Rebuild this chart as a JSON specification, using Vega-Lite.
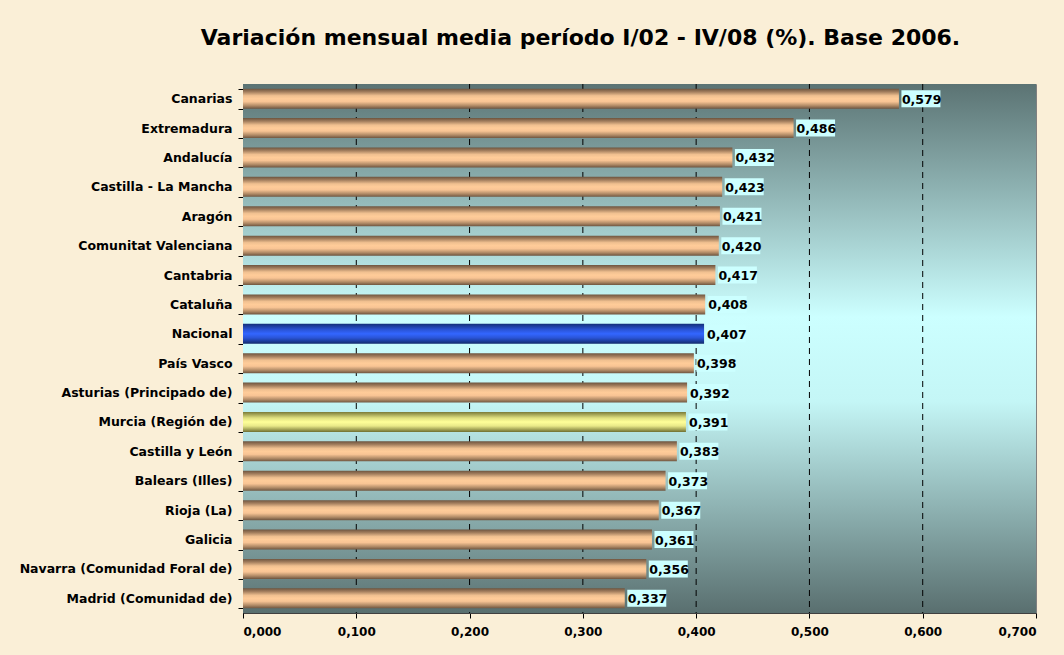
{
  "$schema": "https://vega.github.io/schema/vega-lite/v6.json",
  "autosize": {"type": "none"},
  "width": 793,
  "height": 529,
  "padding": {"left": 243, "top": 84, "right": 28, "bottom": 42},
  "background": "#faefd7",
  "title": {
    "text": "Variación mensual media período I/02 - IV/08 (%). Base 2006.",
    "font": "DejaVu Sans",
    "fontSize": 22,
    "fontWeight": "bold",
    "color": "#000000",
    "anchor": "middle",
    "dx": -59,
    "offset": 28
  },
  "config": {
    "locale": {"number": {"decimal": ",", "thousands": ".", "grouping": [3], "currency": ["", " €"]}},
    "view": {"stroke": "#808080", "strokeWidth": 1}
  },
  "data": {
    "values": [
      {"region": "Canarias", "value": 0.579, "type": "normal"},
      {"region": "Extremadura", "value": 0.486, "type": "normal"},
      {"region": "Andalucía", "value": 0.432, "type": "normal"},
      {"region": "Castilla - La Mancha", "value": 0.423, "type": "normal"},
      {"region": "Aragón", "value": 0.421, "type": "normal"},
      {"region": "Comunitat Valenciana", "value": 0.420, "type": "normal"},
      {"region": "Cantabria", "value": 0.417, "type": "normal"},
      {"region": "Cataluña", "value": 0.408, "type": "normal"},
      {"region": "Nacional", "value": 0.407, "type": "nacional"},
      {"region": "País Vasco", "value": 0.398, "type": "normal"},
      {"region": "Asturias (Principado de)", "value": 0.392, "type": "normal"},
      {"region": "Murcia (Región de)", "value": 0.391, "type": "murcia"},
      {"region": "Castilla y León", "value": 0.383, "type": "normal"},
      {"region": "Balears (Illes)", "value": 0.373, "type": "normal"},
      {"region": "Rioja (La)", "value": 0.367, "type": "normal"},
      {"region": "Galicia", "value": 0.361, "type": "normal"},
      {"region": "Navarra (Comunidad Foral de)", "value": 0.356, "type": "normal"},
      {"region": "Madrid (Comunidad de)", "value": 0.337, "type": "normal"}
    ]
  },
  "encoding": {
    "y": {
      "field": "region",
      "type": "nominal",
      "sort": ["Canarias", "Extremadura", "Andalucía", "Castilla - La Mancha", "Aragón", "Comunitat Valenciana", "Cantabria", "Cataluña", "Nacional", "País Vasco", "Asturias (Principado de)", "Murcia (Región de)", "Castilla y León", "Balears (Illes)", "Rioja (La)", "Galicia", "Navarra (Comunidad Foral de)", "Madrid (Comunidad de)"],
      "scale": {"paddingInner": 0.32, "paddingOuter": 0.16},
      "axis": {
        "title": null,
        "labelFont": "DejaVu Sans",
        "labelFontSize": 12.5,
        "labelFontWeight": "bold",
        "labelColor": "#000000",
        "labelPadding": 6,
        "labelLimit": 0,
        "tickBand": "extent",
        "tickColor": "#000000",
        "tickSize": 5,
        "domainColor": "#000000",
        "grid": false
      }
    }
  },
  "layer": [
    {
      "data": {"values": [{"a": 0, "b": 0.7}]},
      "mark": {
        "type": "rect",
        "fill": {
          "gradient": "linear", "x1": 0, "y1": 0, "x2": 0, "y2": 1,
          "stops": [
            {"offset": 0, "color": "#5b7373"},
            {"offset": 0.44, "color": "#ccffff"},
            {"offset": 0.6, "color": "#c4f6f6"},
            {"offset": 1, "color": "#596f6f"}
          ]
        }
      },
      "encoding": {
        "y": null,
        "x": {"field": "a", "type": "quantitative", "scale": {"domain": [0, 0.7]}},
        "x2": {"field": "b"}
      }
    },
    {
      "data": {"values": [{"t": 0.1}, {"t": 0.2}, {"t": 0.3}, {"t": 0.4}, {"t": 0.5}, {"t": 0.6}]},
      "mark": {"type": "rule", "color": "#000000", "strokeDash": [6, 5], "strokeWidth": 1},
      "encoding": {
        "y": null,
        "x": {"field": "t", "type": "quantitative"}
      }
    },
    {
      "transform": [{"filter": "datum.type === 'normal'"}],
      "mark": {
        "type": "bar",
        "fill": {
          "gradient": "linear", "x1": 0, "y1": 0, "x2": 0, "y2": 1,
          "stops": [
            {"offset": 0, "color": "#6e5540"},
            {"offset": 0.15, "color": "#a07c5c"},
            {"offset": 0.35, "color": "#f0c090"},
            {"offset": 0.5, "color": "#ffcc99"},
            {"offset": 0.65, "color": "#f8c494"},
            {"offset": 0.85, "color": "#b08a66"},
            {"offset": 1, "color": "#6e5540"}
          ]
        }
      },
      "encoding": {
        "x": {"field": "value", "type": "quantitative"}
      }
    },
    {
      "transform": [{"filter": "datum.type === 'nacional'"}],
      "mark": {
        "type": "bar",
        "fill": {
          "gradient": "linear", "x1": 0, "y1": 0, "x2": 0, "y2": 1,
          "stops": [
            {"offset": 0, "color": "#14307a"},
            {"offset": 0.3, "color": "#2a55d8"},
            {"offset": 0.5, "color": "#3366ff"},
            {"offset": 0.7, "color": "#2a55d8"},
            {"offset": 1, "color": "#112a6a"}
          ]
        }
      },
      "encoding": {
        "x": {"field": "value", "type": "quantitative"}
      }
    },
    {
      "transform": [{"filter": "datum.type === 'murcia'"}],
      "mark": {
        "type": "bar",
        "fill": {
          "gradient": "linear", "x1": 0, "y1": 0, "x2": 0, "y2": 1,
          "stops": [
            {"offset": 0, "color": "#7a7a38"},
            {"offset": 0.3, "color": "#e0e080"},
            {"offset": 0.5, "color": "#ffff99"},
            {"offset": 0.7, "color": "#e8e888"},
            {"offset": 1, "color": "#707032"}
          ]
        }
      },
      "encoding": {
        "x": {"field": "value", "type": "quantitative"}
      }
    },
    {
      "mark": {
        "type": "point",
        "shape": "M0.25,-0.85 L4.15,-0.85 L4.15,0.85 L0.25,0.85 Z",
        "size": 400,
        "filled": true,
        "fill": "#ccffff",
        "opacity": 1,
        "strokeWidth": 0
      },
      "encoding": {
        "x": {"field": "value", "type": "quantitative"}
      }
    },
    {
      "mark": {
        "type": "text",
        "align": "left",
        "baseline": "middle",
        "dx": 3,
        "dy": 1,
        "font": "DejaVu Sans",
        "fontSize": 12.5,
        "fontWeight": "bold",
        "color": "#000000"
      },
      "encoding": {
        "x": {
          "field": "value",
          "type": "quantitative",
          "axis": {
            "title": null,
            "format": ".3f",
            "values": [0, 0.1, 0.2, 0.3, 0.4, 0.5, 0.6, 0.7],
            "labelFont": "DejaVu Sans",
            "labelFontSize": 12,
            "labelFontWeight": "bold",
            "labelColor": "#000000",
            "labelPadding": 8,
            "tickColor": "#000000",
            "tickSize": 5,
            "domainColor": "#404040",
            "grid": false
          }
        },
        "text": {"field": "value", "type": "quantitative", "format": ".3f"}
      }
    }
  ]
}
